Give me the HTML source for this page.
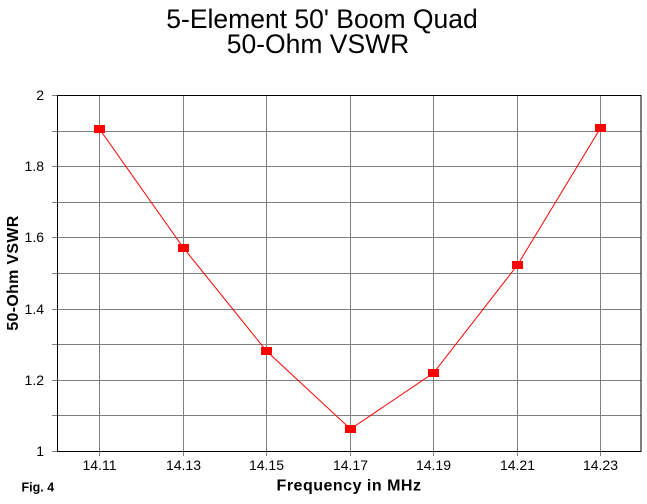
<!DOCTYPE html>
<html>
<head>
<meta charset="utf-8">
<style>
  html, body { margin: 0; padding: 0; background: #ffffff; }
  body { width: 647px; height: 504px; overflow: hidden; }
  svg { display: block; font-family: "Liberation Sans", Arial, sans-serif; }
</style>
</head>
<body>
<svg width="647" height="504" viewBox="0 0 647 504" xmlns="http://www.w3.org/2000/svg">
  <rect x="0" y="0" width="647" height="504" fill="#ffffff"/>

  <!-- Title -->
  <text x="322" y="28" font-size="26.5" text-anchor="middle" fill="#000">5-Element 50' Boom Quad</text>
  <text x="318" y="53" font-size="26.5" text-anchor="middle" fill="#000">50-Ohm VSWR</text>

  <!-- Horizontal grid lines + left ticks -->
  <g stroke="#808080" stroke-width="1" shape-rendering="crispEdges">
    <line x1="52" y1="131.5" x2="641" y2="131.5"/>
    <line x1="52" y1="166.5" x2="641" y2="166.5"/>
    <line x1="52" y1="202.5" x2="641" y2="202.5"/>
    <line x1="52" y1="237.5" x2="641" y2="237.5"/>
    <line x1="52" y1="273.5" x2="641" y2="273.5"/>
    <line x1="52" y1="309.5" x2="641" y2="309.5"/>
    <line x1="52" y1="344.5" x2="641" y2="344.5"/>
    <line x1="52" y1="380.5" x2="641" y2="380.5"/>
    <line x1="52" y1="415.5" x2="641" y2="415.5"/>
    <line x1="52" y1="95.5" x2="57" y2="95.5"/>
    <line x1="52" y1="451.5" x2="57" y2="451.5"/>
  </g>

  <!-- Vertical grid lines + bottom ticks -->
  <g stroke="#808080" stroke-width="1" shape-rendering="crispEdges">
    <line x1="99.5" y1="95" x2="99.5" y2="456"/>
    <line x1="183.5" y1="95" x2="183.5" y2="456"/>
    <line x1="266.5" y1="95" x2="266.5" y2="456"/>
    <line x1="350.5" y1="95" x2="350.5" y2="456"/>
    <line x1="433.5" y1="95" x2="433.5" y2="456"/>
    <line x1="517.5" y1="95" x2="517.5" y2="456"/>
    <line x1="600.5" y1="95" x2="600.5" y2="456"/>
  </g>

  <!-- Plot border -->
  <rect x="57.5" y="95.5" width="583.5" height="356" fill="none" stroke="#000" stroke-width="1.2" shape-rendering="crispEdges"/>

  <!-- Y tick labels -->
  <g font-size="14" text-anchor="end" fill="#000">
    <text x="44" y="100">2</text>
    <text x="44" y="171">1.8</text>
    <text x="44" y="242">1.6</text>
    <text x="44" y="314">1.4</text>
    <text x="44" y="385">1.2</text>
    <text x="44" y="456">1</text>
  </g>

  <!-- X tick labels -->
  <g font-size="14" text-anchor="middle" fill="#000">
    <text x="99.5" y="470">14.11</text>
    <text x="183.5" y="470">14.13</text>
    <text x="266.5" y="470">14.15</text>
    <text x="350.5" y="470">14.17</text>
    <text x="433.5" y="470">14.19</text>
    <text x="517.5" y="470">14.21</text>
    <text x="600.5" y="470">14.23</text>
  </g>

  <!-- Axis titles -->
  <text x="349" y="490.5" font-size="16" font-weight="bold" letter-spacing="0.5" text-anchor="middle" fill="#000">Frequency in MHz</text>
  <text transform="translate(18,273) rotate(-90)" x="0" y="0" font-size="16" font-weight="bold" letter-spacing="0.3" text-anchor="middle" fill="#000">50-Ohm VSWR</text>

  <!-- Fig. label -->
  <text x="21.5" y="491.5" font-size="12.5" font-weight="bold" fill="#000">Fig. 4</text>

  <!-- Data series -->
  <polyline fill="none" stroke="#ff0000" stroke-width="1"
    points="99.5,129 183.5,248 266.5,351 350.5,429 433.5,373 517.5,265 600.5,128"/>
  <g fill="#ff0000">
    <rect x="94" y="125" width="11" height="8"/>
    <rect x="178" y="244" width="11" height="8"/>
    <rect x="261" y="347" width="11" height="8"/>
    <rect x="345" y="425" width="11" height="8"/>
    <rect x="428" y="369" width="11" height="8"/>
    <rect x="512" y="261" width="11" height="8"/>
    <rect x="595" y="124" width="11" height="8"/>
  </g>
</svg>
</body>
</html>
